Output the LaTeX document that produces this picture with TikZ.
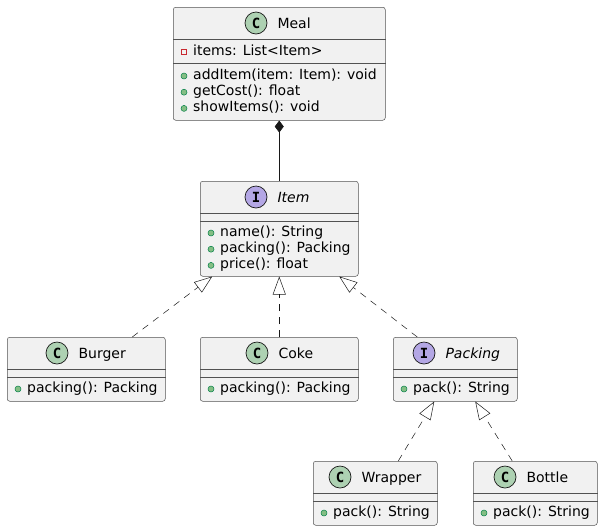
\documentclass[tikz,border=0pt]{standalone}
\usepackage{fontspec}
\setmainfont{DejaVu Sans}
\setmonofont{DejaVu Sans Mono}
\usetikzlibrary{positioning,arrows.meta}
\definecolor{boxfill}{HTML}{F1F1F1}
\definecolor{boxline}{HTML}{181818}
\definecolor{classicon}{HTML}{ADD1B2}
\definecolor{ifaceicon}{HTML}{B4A7E5}
\definecolor{pubfill}{HTML}{84BE84}
\definecolor{publine}{HTML}{038048}
\definecolor{privline}{HTML}{C82930}

\begin{document}
\begin{tikzpicture}[x=1pt,y=-1pt,node distance=10pt,
    font=\fontsize{14}{16}\selectfont,
    umlbox/.style={draw=boxline!75,fill=boxfill,rounded corners=2.5pt,line width=0.5pt,
                   anchor=north west,inner sep=0pt,minimum height=64pt},
    compline/.style={draw=boxline!75,line width=0.5pt},
    classmark/.style={circle,draw=boxline,line width=0.7pt,fill=classicon,
                      minimum size=22pt,inner sep=0pt,font=\fontsize{14}{14}\selectfont\ttfamily\bfseries},
    ifacemark/.style={classmark,fill=ifaceicon},
    classname/.style={inner sep=0pt,text height=11pt,text depth=1pt},
    member/.style={inner sep=0pt,anchor=base west},
    pubdot/.style={fill=pubfill,draw=publine,line width=0.5pt},
    privbox/.style={draw=privline,line width=0.8pt},
    realizes/.style={draw=boxline,line width=0.5pt,dash pattern=on 7pt off 6pt,
                     -{Triangle[open,length=18pt,width=13pt]}},
    composes/.style={draw=boxline,line width=0.6pt,-{Diamond[length=12pt,width=9pt]}}]
   \useasboundingbox (0,0) rectangle (602,531);

   % Meal
   \node [umlbox,minimum width=212pt,minimum height=113pt] (meal) at (173,7) {};
   \draw [compline] ([yshift=-32pt]meal.north west) -- ([yshift=-32pt]meal.north east);
   \draw [compline] ([yshift=-56pt]meal.north west) -- ([yshift=-56pt]meal.north east);
   \node [classmark] (mealC) at (256,23) {C};
   \node [classname,right=of mealC] (mealT) {Meal};
   \draw [privbox] (181.5,49) rectangle (186.5,54);
   \node [member] (mealA) at (193,55) {items: List<Item>};
   \foreach \m [count=\i from 0] in {addItem(item: Item): void,getCost(): float,showItems(): void} {
     \path [pubdot] (184,{76+16.2*\i}) circle (3pt);
     \node [member] (mealM\i) at (193,{79.5+16.2*\i}) {\m};
   }

   % Item
   \node [umlbox,minimum width=158pt,minimum height=95pt] (item) at (200,181) {};
   \draw [compline] ([yshift=-32pt]item.north west) -- ([yshift=-32pt]item.north east);
   \draw [compline] ([yshift=-40pt]item.north west) -- ([yshift=-40pt]item.north east);
   \node [ifacemark] (itemI) at (256,197) {I};
   \node [classname,right=of itemI] (itemT) {\itshape Item};
   \foreach \m [count=\i from 0] in {name(): String,packing(): Packing,price(): float} {
     \path [pubdot] (211,{233+16.2*\i}) circle (3pt);
     \node [member] (itemM\i) at (220,{236.5+16.2*\i}) {\m};
   }

   % Burger
   \node [umlbox,minimum width=158pt] (burger) at (7,337) {};
   \draw [compline] ([yshift=-32pt]burger.north west) -- ([yshift=-32pt]burger.north east);
   \draw [compline] ([yshift=-40pt]burger.north west) -- ([yshift=-40pt]burger.north east);
   \node [classmark] (burgerC) at (57,353) {C};
   \node [classname,right=of burgerC] (burgerT) {Burger};
   \path [pubdot] (18,389) circle (3pt);
   \node [member] (burgerM) at (27,392.5) {packing(): Packing};

   % Coke
   \node [umlbox,minimum width=158pt] (coke) at (200,337) {};
   \draw [compline] ([yshift=-32pt]coke.north west) -- ([yshift=-32pt]coke.north east);
   \draw [compline] ([yshift=-40pt]coke.north west) -- ([yshift=-40pt]coke.north east);
   \node [classmark] (cokeC) at (257,353) {C};
   \node [classname,right=of cokeC] (cokeT) {Coke};
   \path [pubdot] (211,389) circle (3pt);
   \node [member] (cokeM) at (220,392.5) {packing(): Packing};

   % Packing
   \node [umlbox,minimum width=124pt] (packing) at (393,337) {};
   \draw [compline] ([yshift=-32pt]packing.north west) -- ([yshift=-32pt]packing.north east);
   \draw [compline] ([yshift=-40pt]packing.north west) -- ([yshift=-40pt]packing.north east);
   \node [ifacemark] (packingI) at (424,353) {I};
   \node [classname,right=of packingI] (packingT) {\itshape Packing};
   \path [pubdot] (404,389) circle (3pt);
   \node [member] (packingM) at (413,392.5) {pack(): String};

   % Wrapper
   \node [umlbox,minimum width=124pt] (wrapper) at (313,461) {};
   \draw [compline] ([yshift=-32pt]wrapper.north west) -- ([yshift=-32pt]wrapper.north east);
   \draw [compline] ([yshift=-40pt]wrapper.north west) -- ([yshift=-40pt]wrapper.north east);
   \node [classmark] (wrapperC) at (340,477) {C};
   \node [classname,right=of wrapperC] (wrapperT) {Wrapper};
   \path [pubdot] (324,513) circle (3pt);
   \node [member] (wrapperM) at (333,516.5) {pack(): String};

   % Bottle
   \node [umlbox,minimum width=124pt] (bottle) at (473,461) {};
   \draw [compline] ([yshift=-32pt]bottle.north west) -- ([yshift=-32pt]bottle.north east);
   \draw [compline] ([yshift=-40pt]bottle.north west) -- ([yshift=-40pt]bottle.north east);
   \node [classmark] (bottleC) at (505,477) {C};
   \node [classname,right=of bottleC] (bottleT) {Bottle};
   \path [pubdot] (484,513) circle (3pt);
   \node [member] (bottleM) at (493,516.5) {pack(): String};

   % relations
   \draw [composes] (item) -- (meal);
   \draw [realizes] ([xshift=46pt]burger.north) -- ([xshift=-67pt]item.south);
   \draw [realizes] (coke) -- (item);
   \draw [realizes] ([xshift=-38pt]packing.north) -- ([xshift=60pt]item.south);
   \draw [realizes] ([xshift=23pt]wrapper.north) -- ([xshift=-21pt]packing.south);
   \draw [realizes] ([xshift=-23pt]bottle.north) -- ([xshift=20pt]packing.south);
\end{tikzpicture}
\end{document}
